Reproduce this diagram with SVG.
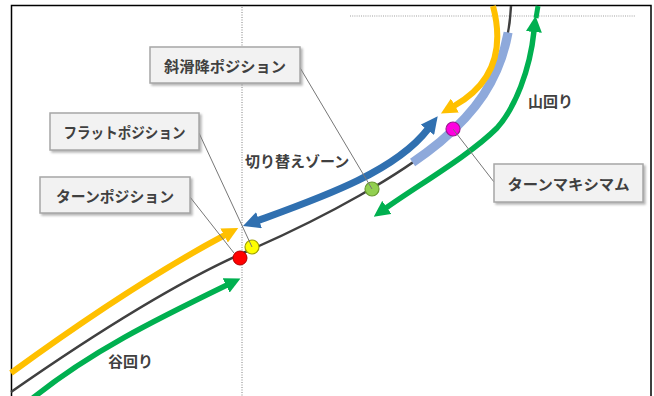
<svg xmlns="http://www.w3.org/2000/svg" width="654" height="396" viewBox="0 0 654 396">
<defs>
<style>
.lbl{font-family:"Noto Sans CJK JP","Noto Sans",sans-serif;font-weight:bold;font-size:15px;fill:#404040;dominant-baseline:central}
.box{fill:#F2F2F2;stroke:#A6A6A6;stroke-width:1.5}
.leader{fill:none;stroke:#777;stroke-width:1}
.trk{fill:none;stroke-linecap:butt}
</style>
<filter id="sh" x="-10%" y="-20%" width="130%" height="160%">
<feDropShadow dx="2" dy="2" stdDeviation="1.2" flood-color="#888" flood-opacity="0.6"/>
</filter>
<marker id="aO" viewBox="0 0 16 16" refX="1" refY="8" markerWidth="16" markerHeight="16" markerUnits="userSpaceOnUse" orient="auto-start-reverse"><path d="M0,0 L16,8 L0,16 z" fill="#FFC000"/></marker>
<marker id="aB" viewBox="0 0 16 16" refX="1" refY="8" markerWidth="17" markerHeight="17" markerUnits="userSpaceOnUse" orient="auto-start-reverse"><path d="M0,0 L16,8 L0,16 z" fill="#3070B0"/></marker>
<marker id="aG" viewBox="0 0 16 16" refX="1" refY="8" markerWidth="16" markerHeight="16" markerUnits="userSpaceOnUse" orient="auto-start-reverse"><path d="M0,0 L16,8 L0,16 z" fill="#00B050"/></marker>
</defs>
<rect x="0" y="0" width="654" height="396" fill="#fff"/>
<rect x="11.5" y="5.5" width="639.5" height="400" fill="none" stroke="#000" stroke-width="1.5"/>
<line x1="242" y1="7" x2="242" y2="396" stroke="#808080" stroke-width="1" stroke-dasharray="1,1.5"/>
<line x1="350" y1="16" x2="635" y2="16" stroke="#A0A0A0" stroke-width="1.2" stroke-dasharray="1,1.2"/>
<g id="connectors">
<path class="trk" d="M 11 392 C 100 330 180 280 250 250 C 330 215 400 175 440 142 C 480 108 508 70 511 6" stroke="#404040" stroke-width="2.5"/>
<path class="trk" d="M 412.6 162.5 C 422.8 155.5 432 148.6 440 142 C 474 113.1 499.3 81.3 508.1 32.5" stroke="#8EA9DB" stroke-width="9"/>
<path class="trk" d="M 11 373 C 70 330 150 275 225 235" stroke="#FFC000" stroke-width="6" marker-end="url(#aO)"/>
<path class="trk" d="M 493 6 C 502 40 500 80 454 106" stroke="#FFC000" stroke-width="6" marker-end="url(#aO)"/>
<path class="trk" d="M 258 220.6 C 320 198 395 172 428 129" stroke="#3070B0" stroke-width="7" marker-start="url(#aB)" marker-end="url(#aB)"/>
<path class="trk" d="M 33 398 C 90 352 155 320 227 285" stroke="#00B050" stroke-width="5.5" marker-end="url(#aG)"/>
<path class="trk" d="M 386 208 C 420 184 470 155 497 128 C 515 108 530 70 534 31" stroke="#00B050" stroke-width="5.5" marker-start="url(#aG)" marker-end="url(#aG)"/>
<path class="trk" d="M 536 18 L 538 6" stroke="#00B050" stroke-width="5"/>
</g>
<g id="dot-turn"><circle cx="240" cy="258" r="7" fill="#FF0000" stroke="#B00000" stroke-width="1"/></g>
<g id="dot-flat"><circle cx="252" cy="247" r="7" fill="#FFFF00" stroke="#A0A000" stroke-width="1.2"/></g>
<g id="dot-diagonal"><circle cx="372" cy="189" r="7" fill="#92D050" stroke="#6A9A30" stroke-width="1.2"/></g>
<g id="dot-max"><circle cx="453" cy="129" r="7" fill="#FF00E0" stroke="#9A1A90" stroke-width="1.2"/></g>
<g id="leaders">
<line class="leader" x1="299" y1="66" x2="372" y2="189"/>
<line class="leader" x1="199" y1="133" x2="252" y2="247"/>
<line class="leader" x1="190" y1="197" x2="234" y2="253"/>
<line class="leader" x1="494" y1="182" x2="453" y2="129"/>
</g>
<g id="box-diagonal"><rect class="box" x="150" y="47" width="150" height="36" filter="url(#sh)"/><text class="lbl" x="225" y="65.5" text-anchor="middle" textLength="122" lengthAdjust="spacingAndGlyphs">斜滑降ポジション</text></g>
<g id="box-flat"><rect class="box" x="50" y="113" width="149" height="37" filter="url(#sh)"/><text class="lbl" x="124.5" y="131.5" text-anchor="middle" textLength="122" lengthAdjust="spacingAndGlyphs">フラットポジション</text></g>
<g id="box-turn"><rect class="box" x="40" y="177" width="150" height="36" filter="url(#sh)"/><text class="lbl" x="115" y="195" text-anchor="middle" textLength="118" lengthAdjust="spacingAndGlyphs">ターンポジション</text></g>
<g id="box-max"><rect class="box" x="494" y="164" width="149" height="38" filter="url(#sh)"/><text class="lbl" x="568.5" y="183" text-anchor="middle" textLength="122" lengthAdjust="spacingAndGlyphs">ターンマキシマム</text></g>
<g id="label-zone"><text class="lbl" x="245" y="160">切り替えゾーン</text></g>
<g id="label-mountain"><text class="lbl" x="528" y="100">山回り</text></g>
<g id="label-valley"><text class="lbl" x="108" y="360">谷回り</text></g>
</svg>
